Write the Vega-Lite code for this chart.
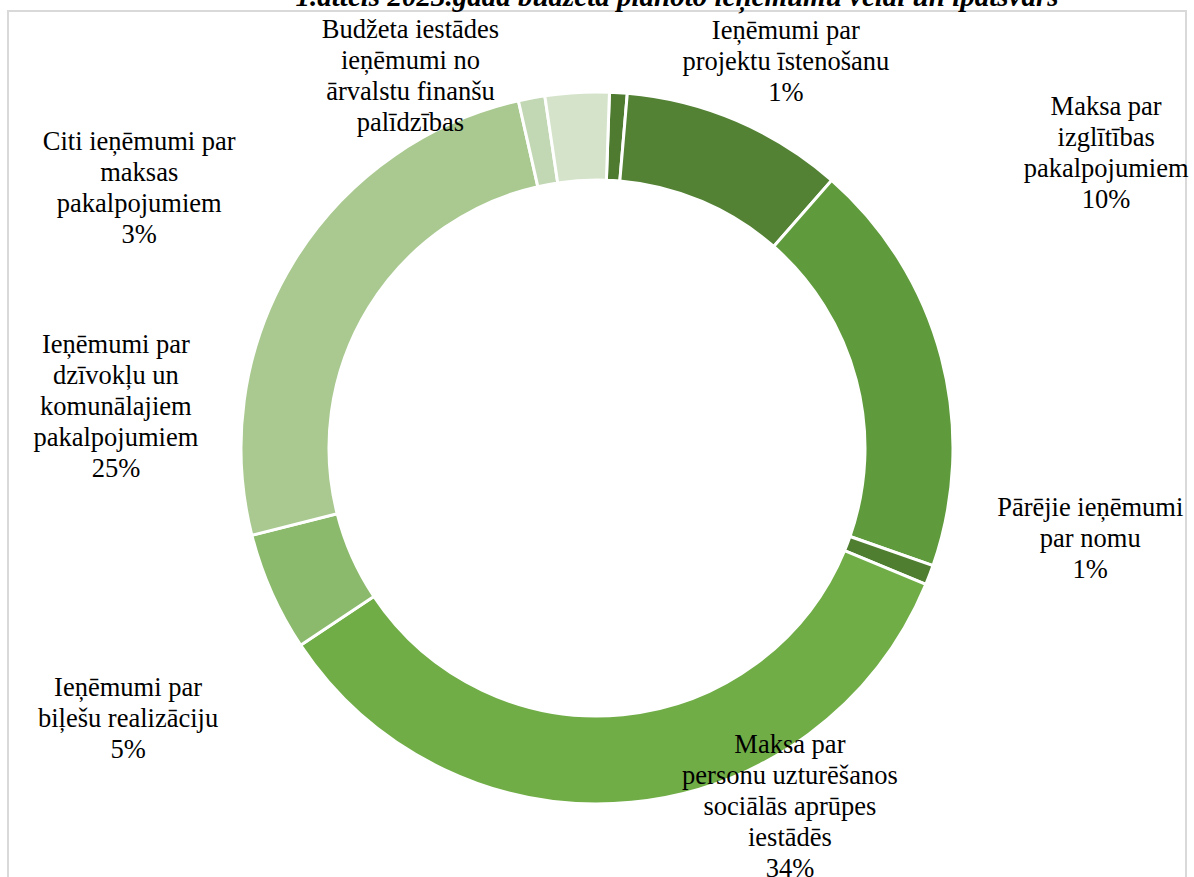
{
  "$schema": "https://vega.github.io/schema/vega-lite/v6.json",
  "width": 1178,
  "height": 874,
  "autosize": {"type": "none"},
  "padding": {"left": 8, "top": 11, "right": 8, "bottom": 0},
  "background": "white",
  "view": {"stroke": "#d9d9d9", "strokeWidth": 2},
  "config": {"view": {"stroke": "#d9d9d9", "strokeWidth": 2}},
  "title": {
    "text": "1.attēls 2023.gada budžeta plānoto ieņēmumu veidi un īpatsvars",
    "font": "Liberation Serif",
    "fontSize": 29,
    "fontWeight": "bold",
    "fontStyle": "italic",
    "color": "#000000",
    "offset": -30,
    "frame": "group",
    "anchor": "middle",
    "baseline": "bottom",
    "dx": 80
  },
  "data": {
    "values": [
      {"idx": 1, "name": "Ieņēmumi par projektu īstenošanu", "value": 0.8, "label": "Ieņēmumi par|projektu īstenošanu|1%"},
      {"idx": 2, "name": "Maksa par izglītības pakalpojumiem", "value": 10.1, "label": "Maksa par|izglītības|pakalpojumiem|10%"},
      {"idx": 3, "name": "Pārējie ieņēmumi", "value": 18.9, "label": ""},
      {"idx": 4, "name": "Pārējie ieņēmumi par nomu", "value": 0.9, "label": "Pārējie ieņēmumi|par nomu|1%"},
      {"idx": 5, "name": "Maksa par personu uzturēšanos sociālās aprūpes iestādēs", "value": 34.4, "label": "Maksa par|personu uzturēšanos|sociālās aprūpes|iestādēs|34%"},
      {"idx": 6, "name": "Ieņēmumi par biļešu realizāciju", "value": 5.4, "label": "Ieņēmumi par|biļešu realizāciju|5%"},
      {"idx": 7, "name": "Ieņēmumi par dzīvokļu un komunālajiem pakalpojumiem", "value": 25.4, "label": "Ieņēmumi par|dzīvokļu un|komunālajiem|pakalpojumiem|25%"},
      {"idx": 8, "name": "Budžeta iestādes ieņēmumi no ārvalstu finanšu palīdzības", "value": 1.2, "label": "Budžeta iestādes|ieņēmumi no|ārvalstu finanšu|palīdzības"},
      {"idx": 9, "name": "Citi ieņēmumi par maksas pakalpojumiem", "value": 2.9, "label": "Citi ieņēmumi par|maksas|pakalpojumiem|3%"}
    ]
  },
  "encoding": {
    "theta": {"field": "value", "type": "quantitative", "stack": true, "scale": {"range": [0.035, 6.3182]}},
    "order": {"field": "idx", "type": "quantitative"}
  },
  "layer": [
    {
      "mark": {"type": "arc", "innerRadius": 268, "outerRadius": 356, "stroke": "#ffffff", "strokeWidth": 3},
      "encoding": {
        "color": {
          "field": "name",
          "type": "nominal",
          "legend": null,
          "scale": {
            "domain": [
              "Ieņēmumi par projektu īstenošanu",
              "Maksa par izglītības pakalpojumiem",
              "Pārējie ieņēmumi",
              "Pārējie ieņēmumi par nomu",
              "Maksa par personu uzturēšanos sociālās aprūpes iestādēs",
              "Ieņēmumi par biļešu realizāciju",
              "Ieņēmumi par dzīvokļu un komunālajiem pakalpojumiem",
              "Budžeta iestādes ieņēmumi no ārvalstu finanšu palīdzības",
              "Citi ieņēmumi par maksas pakalpojumiem"
            ],
            "range": ["#4e7b30", "#548235", "#5f9b3c", "#4f7e31", "#70ad47", "#8cba6d", "#a9c990", "#c2d7b3", "#d4e3ca"]
          }
        }
      }
    },
    {
      "mark": {"type": "text", "radius": 396, "dx": 165, "dy": -35, "font": "Liberation Serif", "fontSize": 26.5, "lineHeight": 31, "lineBreak": "|", "align": "center", "baseline": "top", "color": "#000000"},
      "encoding": {"text": {"condition": {"test": "datum.idx == 1", "field": "label"}, "value": ""}}
    },
    {
      "mark": {"type": "text", "radius": 470, "dx": 325, "dy": 78, "font": "Liberation Serif", "fontSize": 26.5, "lineHeight": 31, "lineBreak": "|", "align": "center", "baseline": "top", "color": "#000000"},
      "encoding": {"text": {"condition": {"test": "datum.idx == 2", "field": "label"}, "value": ""}}
    },
    {
      "mark": {"type": "text", "radius": 300, "dx": 213, "dy": -60, "font": "Liberation Serif", "fontSize": 26.5, "lineHeight": 31, "lineBreak": "|", "align": "center", "baseline": "top", "color": "#000000"},
      "encoding": {"text": {"condition": {"test": "datum.idx == 4", "field": "label"}, "value": ""}}
    },
    {
      "mark": {"type": "text", "radius": 340, "dx": 160, "dy": -54, "font": "Liberation Serif", "fontSize": 26.5, "lineHeight": 31, "lineBreak": "|", "align": "center", "baseline": "top", "color": "#000000"},
      "encoding": {"text": {"condition": {"test": "datum.idx == 5", "field": "label"}, "value": ""}}
    },
    {
      "mark": {"type": "text", "radius": 350, "dx": -149, "dy": 85, "font": "Liberation Serif", "fontSize": 26.5, "lineHeight": 31, "lineBreak": "|", "align": "center", "baseline": "top", "color": "#000000"},
      "encoding": {"text": {"condition": {"test": "datum.idx == 6", "field": "label"}, "value": ""}}
    },
    {
      "mark": {"type": "text", "radius": 433, "dx": -112, "dy": 110, "font": "Liberation Serif", "fontSize": 26.5, "lineHeight": 31, "lineBreak": "|", "align": "center", "baseline": "top", "color": "#000000"},
      "encoding": {"text": {"condition": {"test": "datum.idx == 7", "field": "label"}, "value": ""}}
    },
    {
      "mark": {"type": "text", "radius": 400, "dx": -113, "dy": -38, "font": "Liberation Serif", "fontSize": 26.5, "lineHeight": 31, "lineBreak": "|", "align": "center", "baseline": "top", "color": "#000000"},
      "encoding": {"text": {"condition": {"test": "datum.idx == 8", "field": "label"}, "value": ""}}
    },
    {
      "mark": {"type": "text", "radius": 282, "dx": -442, "dy": -37, "font": "Liberation Serif", "fontSize": 26.5, "lineHeight": 31, "lineBreak": "|", "align": "center", "baseline": "top", "color": "#000000"},
      "encoding": {"text": {"condition": {"test": "datum.idx == 9", "field": "label"}, "value": ""}}
    }
  ]
}
